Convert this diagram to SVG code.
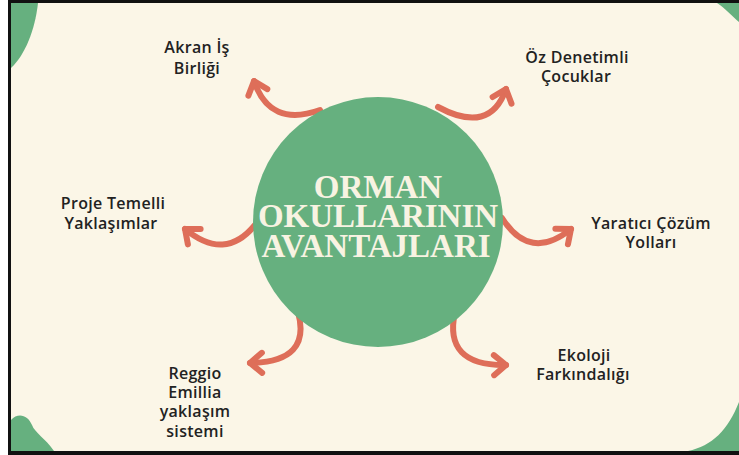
<svg xmlns="http://www.w3.org/2000/svg" width="739" height="455" viewBox="0 0 739 455">
<style>
.blob{fill:#66B07F}
.lbl{font-family:"Open Sans","Liberation Sans",sans-serif;font-weight:600;font-size:16px;fill:#222;text-anchor:middle;letter-spacing:0.3px}
.title{font-family:"Liberation Serif","Times New Roman",serif;font-weight:bold;font-size:33px;fill:#F8F3E2;text-anchor:middle}
.arr{fill:none;stroke:#DE6E59;stroke-width:6;stroke-linecap:round;stroke-linejoin:round}
</style>
<defs>
<marker id="head" markerUnits="userSpaceOnUse" markerWidth="30" markerHeight="30" refX="0" refY="0" viewBox="-15 -15 30 30" orient="auto" overflow="visible">
<path d="M-12,-10 L0,0 L-12,10" fill="none" stroke="#DE6E59" stroke-width="6" stroke-linecap="round" stroke-linejoin="round"/>
</marker>
</defs>
<rect x="0" y="0" width="739" height="455" fill="#ffffff"/>
<rect x="8" y="0" width="731" height="455" fill="#111"/>
<rect x="11" y="3" width="728" height="448" fill="#FBF6E7"/>
<g id="corners">
<path class="blob" d="M11,3 L38,3 C35,30 25,55 11,68 Z"/>
<path class="blob" d="M717,3 C725,8 732,16 739,22 L739,3 Z"/>
<path class="blob" d="M11,420 C18,412 28,415 32,425 C35,433 45,438 54,451 L11,451 Z"/>
<path class="blob" d="M688,451 C712,446 728,430 739,402 L739,451 Z"/>
</g>
<g id="connectors">
<path class="arr" marker-end="url(#head)" d="M320,110 Q270,128 254,81"/>
<path class="arr" marker-end="url(#head)" d="M438,107 Q490,135 506,89"/>
<path class="arr" marker-end="url(#head)" d="M255,225 Q225,262 185,229"/>
<path class="arr" marker-end="url(#head)" d="M502,218 Q530,262 571,229"/>
<path class="arr" marker-end="url(#head)" d="M298,312 Q312,362 250,363"/>
<path class="arr" marker-end="url(#head)" d="M455,312 Q443,366 506,365"/>
</g>
<g id="center">
<circle cx="378" cy="222" r="125" fill="#66B07F"/>
<text class="title"><tspan x="378" y="198">ORMAN</tspan><tspan x="378" y="227">OKULLARININ</tspan><tspan x="376" y="257">AVANTAJLARI</tspan></text>
</g>
<g id="akran"><text class="lbl"><tspan x="197" y="53">Akran İş</tspan><tspan x="197" y="74">Birliği</tspan></text></g>
<g id="oz"><text class="lbl"><tspan x="577" y="63">Öz Denetimli</tspan><tspan x="576" y="82">Çocuklar</tspan></text></g>
<g id="proje"><text class="lbl"><tspan x="113" y="209">Proje Temelli</tspan><tspan x="111" y="229">Yaklaşımlar</tspan></text></g>
<g id="yaratici"><text class="lbl"><tspan x="651" y="229">Yaratıcı Çözüm</tspan><tspan x="651" y="248">Yolları</tspan></text></g>
<g id="reggio"><text class="lbl"><tspan x="195" y="379">Reggio</tspan><tspan x="195" y="398">Emillia</tspan><tspan x="195" y="417">yaklaşım</tspan><tspan x="195" y="437">sistemi</tspan></text></g>
<g id="ekoloji"><text class="lbl"><tspan x="584" y="361">Ekoloji</tspan><tspan x="583" y="380">Farkındalığı</tspan></text></g>
</svg>
